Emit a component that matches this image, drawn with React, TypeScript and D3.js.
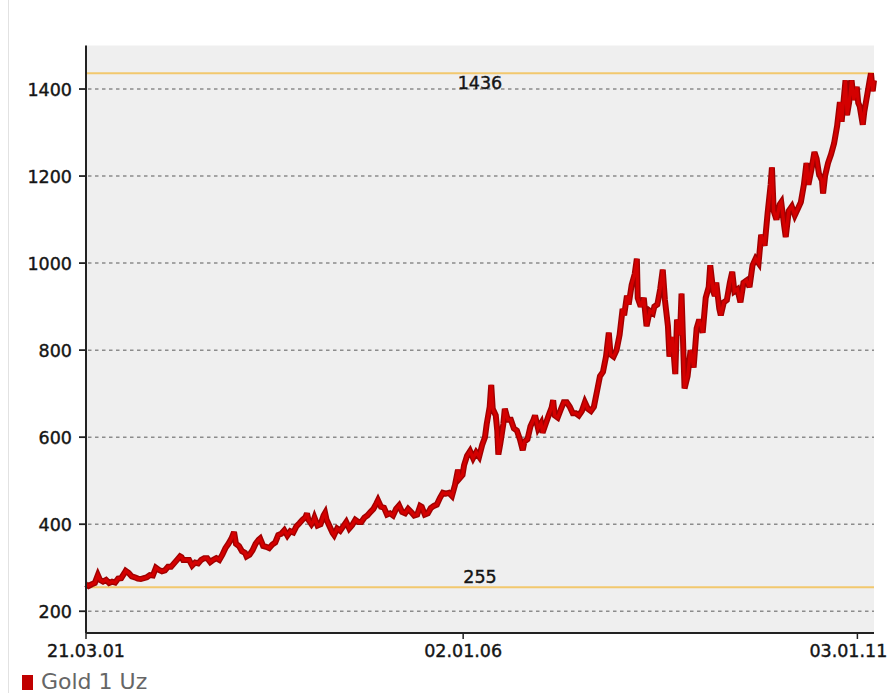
import React from "react";
import * as d3 from "d3";

type Pt = [string, number];

const gold2001: Pt[] = [
  ["2001-03-21", 262], ["2001-04-02", 258], ["2001-04-17", 262], ["2001-05-01", 265],
  ["2001-05-15", 283], ["2001-05-25", 272], ["2001-06-08", 268], ["2001-06-22", 272],
  ["2001-07-06", 265], ["2001-07-20", 268], ["2001-08-03", 266], ["2001-08-17", 275],
  ["2001-08-31", 276], ["2001-09-14", 287], ["2001-09-21", 293], ["2001-10-05", 288],
  ["2001-10-19", 280], ["2001-11-02", 278], ["2001-11-16", 275], ["2001-11-30", 274],
  ["2001-12-14", 276], ["2001-12-28", 278],
];

const gold2002: Pt[] = [
  ["2002-01-11", 283], ["2002-01-25", 282], ["2002-02-08", 300], ["2002-02-22", 295],
  ["2002-03-08", 292], ["2002-03-22", 294], ["2002-04-05", 302], ["2002-04-19", 302],
  ["2002-05-03", 310], ["2002-05-17", 318], ["2002-05-31", 326], ["2002-06-07", 324],
  ["2002-06-14", 318], ["2002-06-28", 318], ["2002-07-12", 318], ["2002-07-26", 305],
  ["2002-08-09", 312], ["2002-08-23", 310], ["2002-09-06", 318], ["2002-09-20", 322],
  ["2002-10-04", 322], ["2002-10-18", 313], ["2002-11-01", 318], ["2002-11-15", 322],
  ["2002-11-29", 318], ["2002-12-13", 330], ["2002-12-27", 345],
];

const gold2003: Pt[] = [
  ["2003-01-10", 355], ["2003-01-24", 367], ["2003-02-05", 382], ["2003-02-14", 355],
  ["2003-02-28", 350], ["2003-03-14", 338], ["2003-03-28", 334], ["2003-04-04", 326],
  ["2003-04-18", 330], ["2003-05-02", 340], ["2003-05-16", 355], ["2003-05-30", 364],
  ["2003-06-06", 367], ["2003-06-20", 350], ["2003-07-04", 348], ["2003-07-18", 345],
  ["2003-08-01", 353], ["2003-08-15", 358], ["2003-08-29", 375], ["2003-09-12", 378],
  ["2003-09-26", 386], ["2003-10-10", 374], ["2003-10-24", 384], ["2003-11-07", 381],
  ["2003-11-21", 395], ["2003-12-05", 402], ["2003-12-19", 410],
];

const gold2004: Pt[] = [
  ["2004-01-02", 416], ["2004-01-09", 425], ["2004-01-16", 410], ["2004-01-30", 400],
  ["2004-02-06", 405], ["2004-02-13", 415], ["2004-02-27", 397], ["2004-03-12", 400],
  ["2004-03-26", 420], ["2004-04-02", 426], ["2004-04-09", 410], ["2004-04-23", 395],
  ["2004-05-07", 380], ["2004-05-14", 375], ["2004-05-28", 390], ["2004-06-11", 385],
  ["2004-06-25", 395], ["2004-07-09", 405], ["2004-07-23", 390], ["2004-08-06", 398],
  ["2004-08-20", 410], ["2004-09-03", 405], ["2004-09-17", 405], ["2004-10-01", 415],
  ["2004-10-15", 420], ["2004-10-29", 428], ["2004-11-12", 435], ["2004-11-26", 448],
  ["2004-12-03", 455], ["2004-12-17", 440], ["2004-12-31", 438],
];

const gold2005: Pt[] = [
  ["2005-01-14", 422], ["2005-01-28", 425], ["2005-02-11", 420], ["2005-02-25", 435],
  ["2005-03-11", 443], ["2005-03-25", 428], ["2005-04-08", 425], ["2005-04-22", 435],
  ["2005-05-06", 428], ["2005-05-20", 420], ["2005-06-03", 422], ["2005-06-17", 442],
  ["2005-06-24", 440], ["2005-07-08", 422], ["2005-07-22", 425], ["2005-08-05", 437],
  ["2005-08-19", 442], ["2005-09-02", 445], ["2005-09-16", 460], ["2005-09-30", 472],
  ["2005-10-14", 470], ["2005-10-28", 472], ["2005-11-11", 465], ["2005-11-25", 490],
  ["2005-12-09", 525], ["2005-12-16", 505], ["2005-12-30", 513],
];

const gold2006: Pt[] = [
  ["2006-01-06", 535], ["2006-01-20", 557], ["2006-02-03", 568], ["2006-02-17", 552],
  ["2006-03-03", 565], ["2006-03-17", 555], ["2006-03-31", 582], ["2006-04-13", 600],
  ["2006-04-21", 630], ["2006-05-05", 670], ["2006-05-12", 720], ["2006-05-19", 665],
  ["2006-06-02", 650], ["2006-06-09", 615], ["2006-06-14", 560], ["2006-06-23", 585],
  ["2006-07-07", 630], ["2006-07-14", 665], ["2006-07-28", 640], ["2006-08-11", 640],
  ["2006-08-25", 620], ["2006-09-08", 615], ["2006-09-22", 595], ["2006-10-05", 570],
  ["2006-10-13", 590], ["2006-10-27", 595], ["2006-11-10", 625], ["2006-11-24", 640],
  ["2006-12-01", 650], ["2006-12-15", 620], ["2006-12-29", 632],
];

const gold2007: Pt[] = [
  ["2007-01-05", 610], ["2007-01-19", 630], ["2007-02-02", 650], ["2007-02-16", 668],
  ["2007-02-23", 685], ["2007-03-02", 650], ["2007-03-16", 645], ["2007-03-30", 663],
  ["2007-04-13", 680], ["2007-04-27", 680], ["2007-05-11", 670], ["2007-05-25", 655],
  ["2007-06-08", 655], ["2007-06-22", 650], ["2007-07-06", 660], ["2007-07-20", 680],
  ["2007-08-03", 665], ["2007-08-17", 660], ["2007-08-31", 670], ["2007-09-14", 705],
  ["2007-09-28", 740], ["2007-10-12", 750], ["2007-10-26", 785], ["2007-11-08", 840],
  ["2007-11-16", 790], ["2007-11-30", 785], ["2007-12-14", 800], ["2007-12-28", 835],
];

const gold2008: Pt[] = [
  ["2008-01-11", 895], ["2008-01-18", 880], ["2008-01-31", 925], ["2008-02-08", 905],
  ["2008-02-22", 950], ["2008-03-07", 975], ["2008-03-14", 1000], ["2008-03-17", 1010],
  ["2008-03-21", 920], ["2008-04-04", 900], ["2008-04-18", 920], ["2008-05-01", 855],
  ["2008-05-16", 890], ["2008-05-30", 885], ["2008-06-06", 900], ["2008-06-20", 905],
  ["2008-07-03", 940], ["2008-07-15", 985], ["2008-07-25", 915], ["2008-08-08", 855],
  ["2008-08-15", 785], ["2008-08-29", 830], ["2008-09-11", 745], ["2008-09-19", 870],
  ["2008-10-03", 835], ["2008-10-10", 930], ["2008-10-24", 712], ["2008-11-07", 740],
  ["2008-11-21", 800], ["2008-12-05", 760], ["2008-12-19", 850], ["2008-12-31", 870],
];

const gold2009: Pt[] = [
  ["2009-01-09", 855], ["2009-01-16", 840], ["2009-01-30", 920], ["2009-02-13", 945],
  ["2009-02-20", 995], ["2009-03-06", 935], ["2009-03-13", 925], ["2009-03-20", 955],
  ["2009-04-03", 895], ["2009-04-10", 880], ["2009-04-24", 910], ["2009-05-08", 915],
  ["2009-05-22", 955], ["2009-06-02", 980], ["2009-06-12", 935], ["2009-06-26", 940],
  ["2009-07-10", 910], ["2009-07-24", 955], ["2009-08-07", 960], ["2009-08-21", 945],
  ["2009-09-04", 995], ["2009-09-18", 1010], ["2009-10-02", 1000], ["2009-10-14", 1065],
  ["2009-10-30", 1040], ["2009-11-13", 1115], ["2009-11-27", 1180], ["2009-12-03", 1220],
  ["2009-12-11", 1120], ["2009-12-24", 1100],
];

const gold2010: Pt[] = [
  ["2010-01-08", 1135], ["2010-01-15", 1140], ["2010-01-29", 1085], ["2010-02-05", 1060],
  ["2010-02-19", 1120], ["2010-03-05", 1130], ["2010-03-19", 1110], ["2010-04-02", 1125],
  ["2010-04-16", 1140], ["2010-04-30", 1180], ["2010-05-12", 1230], ["2010-05-21", 1180],
  ["2010-06-04", 1215], ["2010-06-18", 1255], ["2010-06-28", 1240], ["2010-07-09", 1205],
  ["2010-07-23", 1190], ["2010-07-28", 1160], ["2010-08-06", 1200], ["2010-08-20", 1230],
  ["2010-09-03", 1250], ["2010-09-17", 1275], ["2010-10-01", 1315], ["2010-10-14", 1370],
  ["2010-10-22", 1325], ["2010-11-09", 1420], ["2010-11-16", 1340], ["2010-11-26", 1370],
  ["2010-12-07", 1420], ["2010-12-17", 1375], ["2010-12-31", 1405],
];

const gold2011: Pt[] = [
  ["2011-01-07", 1368], ["2011-01-14", 1360], ["2011-01-28", 1318], ["2011-02-04", 1348],
  ["2011-02-18", 1388], ["2011-03-01", 1420], ["2011-03-07", 1436], ["2011-03-11", 1415],
  ["2011-03-15", 1395], ["2011-03-21", 1420],
];

const yTicks = [200, 400, 600, 800, 1000, 1200, 1400];
const xTicks = ["2001-03-21", "2006-01-02", "2011-01-03"];
const refLines = [1436, 255];
const seriesName = "Gold 1 Uz";
const startDate = "2001-03-21";
const endDate = "2011-03-21";

const parse = d3.timeParse("%Y-%m-%d");
const fmt = d3.timeFormat("%d.%m.%y");

export default function App() {
  const W = 889;
  const H = 693;
  const left = 86;
  const right = 874;
  const top = 45.5;
  const bottom = 633;

  const data = [
    ...gold2001, ...gold2002, ...gold2003, ...gold2004, ...gold2005, ...gold2006,
    ...gold2007, ...gold2008, ...gold2009, ...gold2010, ...gold2011,
  ].map(([d, v]) => ({ date: parse(d) as Date, value: v }));

  const x = d3.scaleTime().domain([parse(startDate) as Date, parse(endDate) as Date]).range([left, right]);
  const y = d3.scaleLinear().domain([150, 1500]).range([bottom, top]);

  const path =
    d3
      .line<{ date: Date; value: number }>()
      .x((d) => x(d.date))
      .y((d) => y(d.value))(data) ?? "";

  const font = "'DejaVu Sans', Verdana, sans-serif";
  const labelProps = { fontFamily: font, fontSize: 17.5, fill: "#151515" };

  return (
    <svg
      width={W}
      height={H}
      style={{ position: "absolute", left: 0, top: 0, background: "#fff" }}
    >
      <line x1={8.5} x2={8.5} y1={0} y2={H} stroke="#e2e2e2" strokeWidth={1} />
      <rect x={left} y={top} width={right - left} height={bottom - top} fill="#efefef" />

      {yTicks.map((t) => (
        <g key={t}>
          <line
            x1={left + 2}
            x2={right}
            y1={y(t)}
            y2={y(t)}
            stroke="#8c8c8c"
            strokeWidth={1.5}
            strokeDasharray="3.5 3.5"
          />
          <line x1={left - 7} x2={left} y1={y(t)} y2={y(t)} stroke="#222" strokeWidth={1.8} />
          <text x={left - 14} y={y(t) + 6.5} textAnchor="end" {...labelProps} stroke="#151515" strokeWidth={0.4}>
            {t}
          </text>
        </g>
      ))}

      {refLines.map((v) => (
        <line key={v} x1={left} x2={right} y1={y(v)} y2={y(v)} stroke="#f2c86e" strokeWidth={2} />
      ))}
      <text
        x={(left + right) / 2}
        y={y(refLines[0]) + 16}
        textAnchor="middle"
        {...labelProps}
        stroke="#151515"
        strokeWidth={0.4}
      >
        {refLines[0]}
      </text>
      <text
        x={(left + right) / 2}
        y={y(refLines[1]) - 4}
        textAnchor="middle"
        {...labelProps}
        stroke="#151515"
        strokeWidth={0.4}
      >
        {refLines[1]}
      </text>

      <path d={path} fill="none" stroke="#a00000" strokeWidth={6} strokeLinejoin="miter" strokeMiterlimit={3} />
      <path d={path} fill="none" stroke="#d40000" strokeWidth={3.2} strokeLinejoin="miter" strokeMiterlimit={3} />

      <line x1={left} x2={left} y1={top} y2={bottom} stroke="#222" strokeWidth={2} />
      <line x1={left} x2={right} y1={bottom} y2={bottom} stroke="#222" strokeWidth={2} />

      {xTicks.map((t, i) => {
        const px = x(parse(t) as Date);
        const lx = i === xTicks.length - 1 ? px - 9 : px;
        return (
          <g key={t}>
            <line x1={px} x2={px} y1={bottom} y2={bottom + 6} stroke="#222" strokeWidth={1.5} />
            <text x={lx} y={bottom + 24} textAnchor="middle" {...labelProps} stroke="#151515" strokeWidth={0.4}>
              {fmt(parse(t) as Date)}
            </text>
          </g>
        );
      })}

      <rect x={22} y={675} width={11} height={15} fill="#c00000" />
      <text x={41} y={689} fontFamily={font} fontSize={22} fill="#666">
        {seriesName}
      </text>
    </svg>
  );
}
